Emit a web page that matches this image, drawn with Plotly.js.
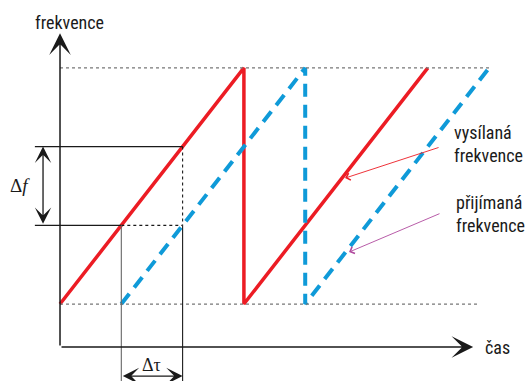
<!DOCTYPE html>
<html>
<head>
<meta charset="utf-8">
<script src="https://cdn.plot.ly/plotly-3.0.1.min.js"></script>
<style>html,body{margin:0;padding:0;background:#fff;}#chart{width:530px;height:381px;}</style>
</head>
<body>
<div id="chart"></div>
<script>
// Transmitted (vysílaná) sawtooth: time and frequency, arbitrary units
const txTime = [0, 3, 3, 6];
const txFreq = [0, 3, 0, 3];
// Received (přijímaná) sawtooth, delayed by one time unit
const rxTime = [1, 4, 4, 7];
const rxFreq = [0, 3, 0, 3];
// Reference levels
const fMin = 0, fMax = 3;
const deltaFLevels = [1, 2];   // Δf between these frequencies
const deltaTauTimes = [1, 2];  // Δτ between these times
// Texts
const yTitle = 'frekvence';
const xTitle = 'čas';
const txLabel = 'vysílaná<br>frekvence';
const rxLabel = 'přijímaná<br>frekvence';

const RED = '#ec1c24', BLUE = '#0f9ad8', GRAY = '#777777', DARK = '#1a1a1a';
const SANS = '"Liberation Sans Narrow", "Arial Narrow", "Roboto Condensed", "Liberation Sans", sans-serif';
const SERIF = '"Liberation Serif", "DejaVu Serif", serif';

// axis extents (in data units)
const xLeft = -0.979, xRight = 7.667, yBottom = -0.978, yTop = 3.863;
const axisF = -0.546, axisTipF = 3.44, axisTipT = 6.74;
const tickStart = -0.41, arrowT = -0.277, tauArrowF = -0.915;

const traces = [
  {x: txTime, y: txFreq, mode: 'lines', line: {color: RED, width: 3.5}, hoverinfo: 'skip'},
  {x: rxTime, y: rxFreq, mode: 'lines', line: {color: BLUE, width: 4, dash: '13px,8px'}, hoverinfo: 'skip'}
];

const [f1, f2] = deltaFLevels;
const [t1, t2] = deltaTauTimes;
const shapes = [
  // dotted reference levels
  {type: 'line', x0: 0, x1: rxTime[3], y0: fMax, y1: fMax, line: {color: GRAY, width: 1.2, dash: '3px,3px'}},
  {type: 'line', x0: 0, x1: 6.85, y0: fMin, y1: fMin, line: {color: GRAY, width: 1.2, dash: '3px,3px'}},
  // Δf lines
  {type: 'line', x0: tickStart, x1: t2, y0: f2, y1: f2, line: {color: DARK, width: 1.1}},
  {type: 'line', x0: tickStart, x1: t1, y0: f1, y1: f1, line: {color: DARK, width: 1.1}},
  {type: 'line', x0: t1, x1: t2, y0: f1, y1: f1, line: {color: DARK, width: 1.1, dash: '3px,3px'}},
  // Δτ verticals
  {type: 'line', x0: t1, x1: t1, y0: f1, y1: yBottom, line: {color: '#666', width: 1.1}},
  {type: 'line', x0: t2, x1: t2, y0: f2, y1: f1, line: {color: DARK, width: 1.1, dash: '3px,3px'}},
  {type: 'line', x0: t2, x1: t2, y0: f1, y1: yBottom, line: {color: DARK, width: 1.1}}
];

const annotations = [
  // axes
  {x: 0, y: axisTipF, ax: 0, ay: axisF, axref: 'x', ayref: 'y', xref: 'x', yref: 'y', showarrow: true,
   arrowhead: 3, arrowsize: 2.4, arrowwidth: 1.5, arrowcolor: DARK, text: ''},
  {x: axisTipT, y: axisF, ax: 0, ay: axisF, axref: 'x', ayref: 'y', xref: 'x', yref: 'y', showarrow: true,
   arrowhead: 3, arrowsize: 2.4, arrowwidth: 1.5, arrowcolor: DARK, text: ''},
  // Δf double arrow
  {x: arrowT, y: f2, ax: arrowT, ay: f1, axref: 'x', ayref: 'y', xref: 'x', yref: 'y', showarrow: true,
   arrowside: 'end+start', arrowhead: 3, startarrowhead: 3, arrowsize: 2.1, startarrowsize: 2.1,
   arrowwidth: 1.3, arrowcolor: DARK, text: ''},
  // Δτ double arrow
  {x: t2, y: tauArrowF, ax: t1, ay: tauArrowF, axref: 'x', ayref: 'y', xref: 'x', yref: 'y', showarrow: true,
   arrowside: 'end+start', arrowhead: 3, startarrowhead: 3, arrowsize: 2.1, startarrowsize: 2.1,
   arrowwidth: 1.3, arrowcolor: DARK, text: ''},
  // pointer arrows to the curves
  {x: 4.65, y: 1.6, ax: 6.2, ay: 1.995, axref: 'x', ayref: 'y', xref: 'x', yref: 'y', showarrow: true,
   arrowhead: 4, arrowsize: 1.6, arrowwidth: 0.9, arrowcolor: RED, text: ''},
  {x: 4.715, y: 0.66, ax: 6.215, ay: 1.156, axref: 'x', ayref: 'y', xref: 'x', yref: 'y', showarrow: true,
   arrowhead: 4, arrowsize: 1.6, arrowwidth: 0.9, arrowcolor: '#b04a9e', text: ''},
  // texts
  {x: 0.15, y: 3.58, xref: 'x', yref: 'y', showarrow: false, text: yTitle, font: {family: SANS, size: 18, color: DARK}},
  {x: 6.9, y: axisF, xref: 'x', yref: 'y', xanchor: 'left', showarrow: false, text: xTitle, font: {family: SANS, size: 18, color: DARK}},
  {x: 6.4, y: 2.03, xref: 'x', yref: 'y', xanchor: 'left', showarrow: false, align: 'left', text: txLabel, font: {family: SANS, size: 18, color: DARK}},
  {x: 6.43, y: 1.15, xref: 'x', yref: 'y', xanchor: 'left', showarrow: false, align: 'left', text: rxLabel, font: {family: SANS, size: 18, color: DARK}},
  {x: -0.655, y: 1.5, xref: 'x', yref: 'y', showarrow: false, text: 'Δ<i>f</i>', font: {family: SERIF, size: 19, color: DARK}},
  {x: (t1 + t2) / 2, y: -0.775, xref: 'x', yref: 'y', showarrow: false, text: 'Δτ', font: {family: SERIF, size: 18, color: DARK}}
];

const layout = {
  width: 530, height: 381,
  margin: {l: 0, r: 0, t: 0, b: 0, pad: 0},
  paper_bgcolor: '#ffffff', plot_bgcolor: '#ffffff',
  showlegend: false,
  xaxis: {range: [xLeft, xRight], visible: false, fixedrange: true},
  yaxis: {range: [yBottom, yTop], visible: false, fixedrange: true},
  shapes: shapes,
  annotations: annotations
};

Plotly.newPlot('chart', traces, layout, {staticPlot: true, displayModeBar: false});
</script>
</body>
</html>
